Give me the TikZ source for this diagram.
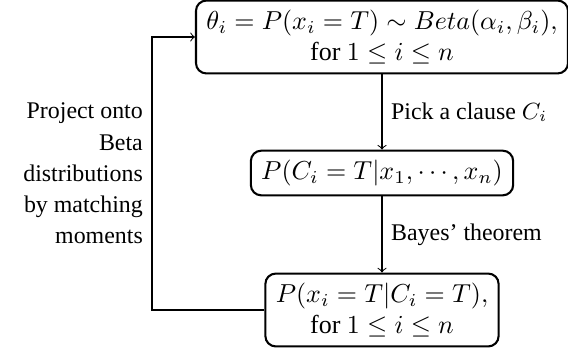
\documentclass[tikz,border=0pt]{standalone}
\usepackage{fontspec}
\setmainfont{Liberation Serif}
\usetikzlibrary{arrows,positioning}
\tikzset{
box/.style={draw,thick,rounded corners=4pt,align=center,inner xsep=4pt,inner ysep=3.6pt},
arc/.style={->,>=to},
steplabel/.style={font=\fontsize{9.2}{12}\selectfont}
}
\begin{document}
\begin{tikzpicture}[x=0.385pt,y=-0.385pt]
	\useasboundingbox (0,0) rectangle (568,354);
	% beliefs
	\node[box] (prior) at (382,37) {$\theta_i=P(x_i=T)\sim Beta(\alpha_i,\beta_i),$\\ for $1\le i\le n$};
	\node[box] (clause) at (382,173) {$P(C_i=T|x_1,\cdots,x_n)$};
	\node[box] (post) at (382,310) {$P(x_i=T|C_i=T),$\\ for $1\le i\le n$};

	% steps
	\draw[arc] (prior) -- (clause) node[midway,right,steplabel] {Pick a clause $C_i$};
	\draw[arc] (clause) -- (post) node[midway,right,steplabel] {Bayes' theorem};

	% projection back
	\coordinate (corner) at (152,0);
	\draw[arc] (post.west) -- (post.west -| corner) -- node[left,align=right,steplabel] {Project onto\\ Beta\\ distributions\\ by matching\\ moments} (prior.west -| corner) -- (prior.west);
\end{tikzpicture}
\end{document}
